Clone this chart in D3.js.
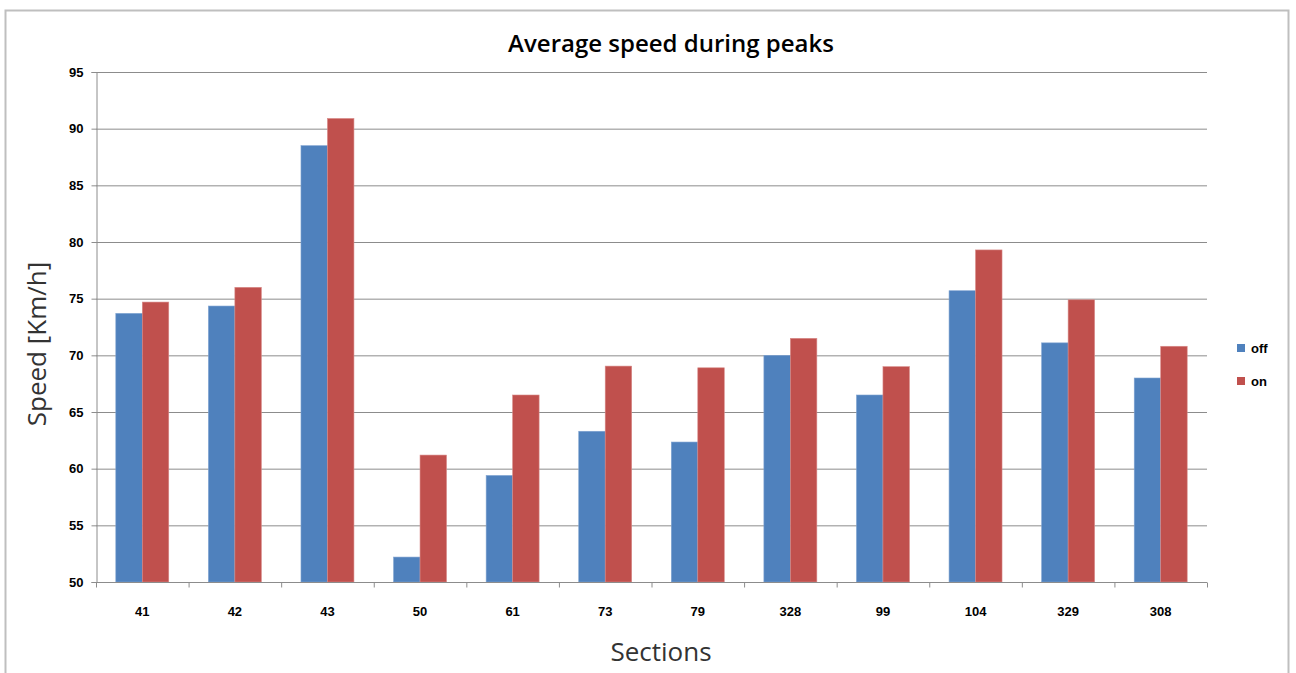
<!DOCTYPE html>
<html>
<head>
<meta charset="utf-8">
<script src="https://cdn.jsdelivr.net/npm/d3@7"></script>
<style>
  body { margin: 0; background: #fff; }
  .tick text { font-family: "Liberation Sans", Arial, sans-serif; font-weight: bold; font-size: 13px; fill: #000; }
</style>
</head>
<body>
<div id="chart"></div>
<script>
const sections = ["41", "42", "43", "50", "61", "73", "79", "328", "99", "104", "329", "308"];
const seriesNames = ["off", "on"];
const offValues = [73.7, 74.35, 88.5, 52.2, 59.4, 63.3, 62.35, 70.0, 66.5, 75.7, 71.1, 68.0];
const onValues = [74.7, 76.0, 90.9, 61.2, 66.5, 69.05, 68.9, 71.5, 69.0, 79.3, 74.9, 70.8];
const yTicks = [50, 55, 60, 65, 70, 75, 80, 85, 90, 95];

const width = 1296;
const height = 673;
const margin = { top: 72, right: 89, bottom: 91, left: 96 };
const colors = { off: "#4F81BD", on: "#C0504D" };

const svg = d3.select("#chart")
    .append("svg")
    .attr("width", width)
    .attr("height", height);

// outer frame (bottom edge is cut off in the original)
svg.append("path")
    .attr("d", "M5.5,673 V10.5 H1288.5 V673")
    .attr("fill", "none")
    .attr("stroke", "#bfbfbf")
    .attr("stroke-width", 2);

const x0 = d3.scaleBand()
    .domain(sections)
    .range([margin.left, width - margin.right])
    .padding(0);

const x1 = d3.scaleBand()
    .domain(seriesNames)
    .range([x0.bandwidth() * 0.214, x0.bandwidth() * 0.786]);

const y = d3.scaleLinear()
    .domain([50, 95])
    .range([height - margin.bottom, margin.top]);

// gridlines
svg.append("g")
    .selectAll("line")
    .data(yTicks.slice(1))
    .enter()
    .append("line")
    .attr("x1", margin.left)
    .attr("x2", width - margin.right)
    .attr("y1", d => y(d) + 0.5)
    .attr("y2", d => y(d) + 0.5)
    .attr("stroke", "#8c8c8c")
    .attr("stroke-width", 1);

const rows = sections.map((s, i) => ({ section: s, off: offValues[i], on: onValues[i] }));

const groups = svg.append("g")
    .selectAll("g")
    .data(rows)
    .enter()
    .append("g")
    .attr("transform", d => "translate(" + x0(d.section) + ",0)");

groups.selectAll("rect")
    .data(d => seriesNames.map(k => ({ key: k, value: d[k] })))
    .enter()
    .append("rect")
    .attr("x", d => x1(d.key))
    .attr("y", d => y(d.value))
    .attr("width", x1.bandwidth())
    .attr("height", d => y(50) - y(d.value))
    .attr("fill", d => colors[d.key])
    .attr("stroke", d => d.key === "off" ? "#7fa3d1" : "#d88a88")
    .attr("stroke-width", 0.6);

// y axis
const yAxis = svg.append("g")
    .attr("transform", "translate(" + (margin.left + 0.5) + ",0)")
    .call(d3.axisLeft(y).tickValues(yTicks).tickSize(5).tickPadding(8));
yAxis.selectAll("path, line").attr("stroke", "#8c8c8c");

// x axis with ticks at category boundaries
const xAxis = svg.append("g")
    .attr("transform", "translate(0," + (height - margin.bottom + 0.5) + ")");
xAxis.append("line")
    .attr("x1", margin.left)
    .attr("x2", width - margin.right)
    .attr("stroke", "#8c8c8c");
xAxis.selectAll(".bound")
    .data(sections.concat(["end"]))
    .enter()
    .append("line")
    .attr("x1", (d, i) => margin.left + i * x0.bandwidth() + 0.5)
    .attr("x2", (d, i) => margin.left + i * x0.bandwidth() + 0.5)
    .attr("y1", 0)
    .attr("y2", 5)
    .attr("stroke", "#8c8c8c");
xAxis.selectAll("text")
    .data(sections)
    .enter()
    .append("text")
    .attr("class", "tick")
    .attr("x", d => x0(d) + x0.bandwidth() / 2)
    .attr("y", 33)
    .attr("text-anchor", "middle")
    .style("font-family", "'Liberation Sans', Arial, sans-serif")
    .style("font-weight", "bold")
    .style("font-size", "13px")
    .text(d => d);

// title and axis titles
svg.append("text")
    .attr("x", 671)
    .attr("y", 52)
    .attr("text-anchor", "middle")
    .style("font-family", "'Open Sans', sans-serif")
    .style("font-size", "24px")
    .style("font-weight", "600")
    .text("Average speed during peaks");

svg.append("text")
    .attr("transform", "translate(46,344) rotate(-90)")
    .attr("text-anchor", "middle")
    .style("font-family", "'Open Sans', sans-serif")
    .style("font-size", "26px")
    .attr("fill", "#333")
    .text("Speed [Km/h]");

svg.append("text")
    .attr("x", 661)
    .attr("y", 661)
    .attr("text-anchor", "middle")
    .style("font-family", "'Open Sans', sans-serif")
    .style("font-size", "26px")
    .attr("fill", "#333")
    .text("Sections");

// legend
const legend = svg.selectAll(".legend")
    .data(seriesNames)
    .enter()
    .append("g")
    .attr("class", "legend")
    .attr("transform", (d, i) => "translate(1237," + (344 + i * 33) + ")");

legend.append("rect")
    .attr("width", 8)
    .attr("height", 8)
    .attr("fill", d => colors[d]);

legend.append("text")
    .attr("x", 14)
    .attr("y", 9)
    .style("font-family", "'Liberation Sans', Arial, sans-serif")
    .style("font-weight", "bold")
    .style("font-size", "13px")
    .text(d => d);
</script>
</body>
</html>
